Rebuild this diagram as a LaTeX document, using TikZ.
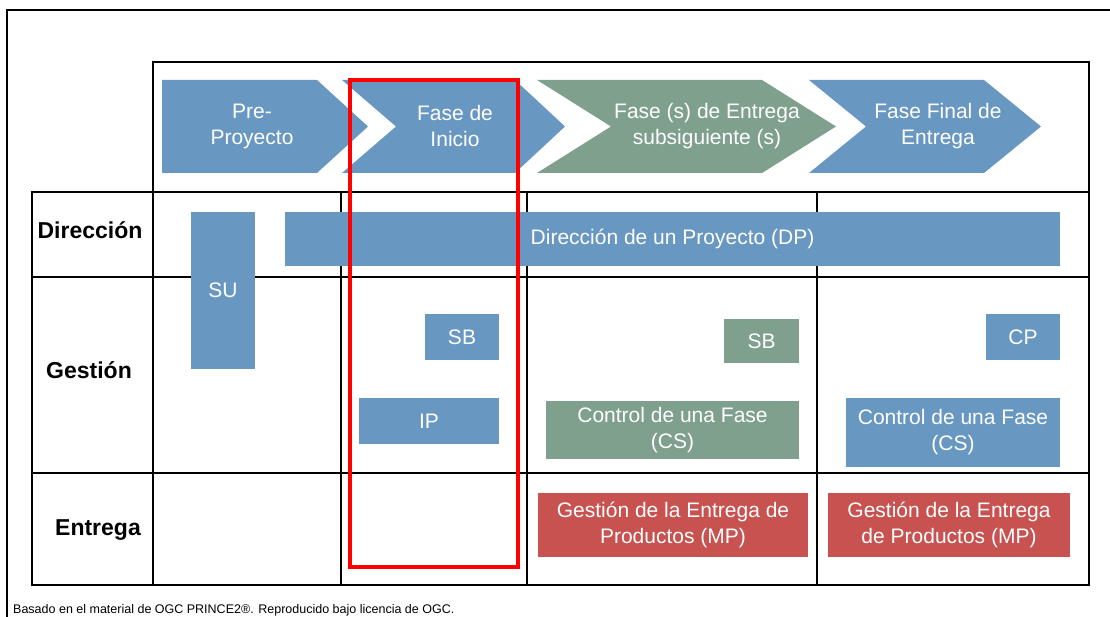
\documentclass[tikz,border=0pt]{standalone}
\usepackage{fontspec}
\setmainfont{Liberation Sans}
\definecolor{pblue}{RGB}{104,151,194}
\definecolor{pgreen}{RGB}{126,160,141}
\definecolor{pred}{RGB}{199,82,80}
\tikzset{
  box/.style={fill=#1, draw=none, text=white, align=center, inner sep=0pt,
    font=\fontsize{21}{26}\selectfont},
  wtext/.style={text=white, align=center, inner sep=0pt, font=\fontsize{21}{26}\selectfont},
  rowlabel/.style={text=black, inner sep=0pt, font=\fontsize{23}{26}\selectfont\bfseries},
  grid/.style={draw=black, line width=1.5pt},
  frame/.style={draw=black, line width=2pt},
  focus/.style={draw=red, line width=3.5pt}
}
\begin{document}
\begin{tikzpicture}[x=1pt,y=-1pt]
\useasboundingbox (0,0) rectangle (1110,617);
% outer frame
\draw[frame] (7,617) -- (7,10) -- (1110,10);
% phase chevrons
\fill[pblue] (162,80) -- (317,80) -- (368,126.5) -- (317,173) -- (162,173) -- cycle;
\fill[pblue] (342,80) -- (515,80) -- (565,126.5) -- (515,173) -- (342,173) -- (396,126.5) -- cycle;
\fill[pgreen] (537,80) -- (762,80) -- (836,126.5) -- (762,173) -- (537,173) -- (611,126.5) -- cycle;
\fill[pblue] (809,80) -- (984,80) -- (1041,126.5) -- (984,173) -- (809,173) -- (866,126.5) -- cycle;
\node[wtext] (ph1) at (252,126) {Pre-\\Proyecto};
\node[wtext] (ph2) at (455,126) {Fase de\\Inicio};
\node[wtext] (ph3) at (707,126) {Fase (s) de Entrega\\subsiguiente (s)};
\node[wtext] (ph4) at (938,126) {Fase Final de\\Entrega};
% grid
\draw[grid] (153,192) -- (153,62) -- (1089,62) -- (1089,585);
\draw[grid] (32,192) rectangle (1089,585);
\draw[grid] (32,277) -- (1089,277);
\draw[grid] (32,473) -- (1089,473);
\draw[grid] (153,192) -- (153,585);
\draw[grid] (341,192) -- (341,585);
\draw[grid] (527,192) -- (527,585);
\draw[grid] (817,192) -- (817,585);
% row labels
\node[rowlabel] (rdir) at (90,230) {Dirección};
\node[rowlabel] (rges) at (89,370) {Gestión};
\node[rowlabel] (rent) at (98,530) {Entrega};
% process boxes
\node[box=pblue, minimum width=64pt, minimum height=157pt] (su) at (223,290.5) {SU};
\node[box=pblue, minimum width=775pt, minimum height=54pt] (dp) at (672.5,239) {Dirección de un Proyecto (DP)};
\node[box=pblue, minimum width=74pt, minimum height=46pt] (sb1) at (462,337) {SB};
\node[box=pblue, minimum width=140pt, minimum height=46pt] (ip) at (429,421) {IP};
\node[box=pgreen, minimum width=75pt, minimum height=44pt] (sb2) at (761.5,341) {SB};
\node[box=pgreen, minimum width=253pt, minimum height=58pt] (cs1) at (672.5,430) {Control de una Fase\\(CS)};
\node[box=pblue, minimum width=74pt, minimum height=46pt] (cp) at (1023,337) {CP};
\node[box=pblue, minimum width=214pt, minimum height=69pt] (cs2) at (953,432.5) {Control de una Fase\\(CS)};
\node[box=pred, minimum width=270pt, minimum height=64pt] (mp1) at (673,525) {Gestión de la Entrega de\\Productos (MP)};
\node[box=pred, minimum width=242pt, minimum height=64pt] (mp2) at (949,525) {Gestión de la Entrega\\de Productos (MP)};
% highlight
\draw[focus] (350,80) rectangle (518,567);
% footer
\node[anchor=base west, inner sep=0pt, font=\fontsize{12.5}{14}\selectfont] (foot) at (13,613) {Basado en el material de OGC PRINCE2®. Reproducido bajo licencia de OGC.};
\end{tikzpicture}
\end{document}
